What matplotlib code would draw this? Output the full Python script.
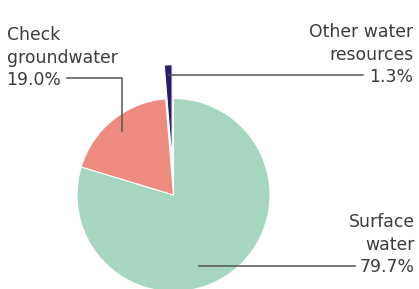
import numpy as np
import matplotlib
matplotlib.use("Agg")
import matplotlib.pyplot as plt

plt.rcParams['font.family'] = ['DejaVu Sans']

# data
labels = ["Surface\nwater", "Check\ngroundwater", "Other water\nresources"]
shares = [79.7, 19.0, 1.3]
colors = ["#a6d6bf", "#ec8b7e", "#2b1b70"]
explode = [0, 0, 0.35]  # fraction of radius

W, H = 419, 289
fig = plt.figure(figsize=(W / 100, H / 100), dpi=100)
ax = fig.add_axes([0, 0, 1, 1])
ax.axis('off')

cx, cy, R = 173.5, 94, 96.5
# pie() takes explode in data units, so scale by the radius
wedges, _ = ax.pie(shares, colors=colors, startangle=90, counterclock=False,
                   explode=[e * R for e in explode], center=(cx, cy), radius=R,
                   wedgeprops=dict(edgecolor='white', linewidth=0.8))
ax.set_xlim(0, W)
ax.set_ylim(0, H)

txt = dict(fontsize=12.4, color='#3c3c3c', linespacing=1.32, va='baseline')
lc = dict(color='#555555', lw=1.1)


def anchor(w, frac, ang=None):
    if ang is None:
        ang = (w.theta1 + w.theta2) / 2
    a = np.deg2rad(ang)
    x0, y0 = w.center
    return x0 + np.cos(a) * w.r * frac, y0 + np.sin(a) * w.r * frac


def py(y):
    return H - y


# surface water
ax.text(415, py(272), f"{labels[0]}\n{shares[0]:.1f}%", ha='right', multialignment='right', **txt)
x, y = anchor(wedges[0], 0.78, -70)
ax.plot([x, 355], [y, y], **lc)

# groundwater
ax.text(6.5, py(85), f"{labels[1]}\n{shares[1]:.1f}%", ha='left', **txt)
x, y = anchor(wedges[1], 0.85)
ax.plot([67, x, x], [py(77.5), py(77.5), y], **lc)

# other
ax.text(413, py(82), f"{labels[2]}\n{shares[2]:.1f}%", ha='right', multialignment='right', **txt)
x, y = anchor(wedges[2], 0.89)
ax.plot([x, 363], [y, y], **lc)

fig.savefig("out.png", dpi=100)
